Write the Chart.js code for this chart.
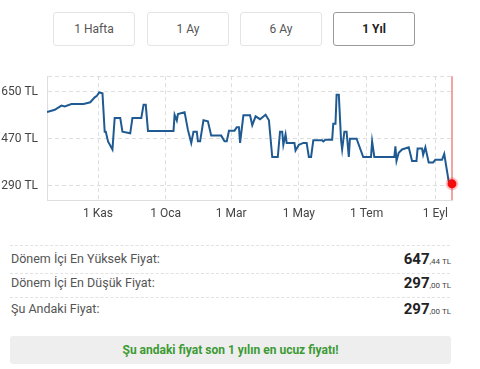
<!DOCTYPE html>
<html>
<head>
<meta charset="utf-8">
<script src="https://cdn.jsdelivr.net/npm/chart.js@4/dist/chart.umd.min.js"></script>
<style>
  body { margin: 0; background: #fff; font-family: Roboto, "Open Sans", sans-serif; }
  #page { position: relative; width: 480px; height: 369px; overflow: hidden; }
  .btn { position: absolute; top: 12px; width: 82px; height: 34px; border: 1px solid #e4e4e4; border-radius: 3px;
         box-sizing: border-box; font-size: 12px; color: #555; text-align: center; line-height: 32px; }
  .btn.active { border-color: #9a9a9a; color: #222; font-weight: bold; }
  #chartBox { position: absolute; left: 0; top: 60px; width: 480px; height: 170px; }
  .sep { position: absolute; left: 10px; width: 440px; border-top: 1px dashed #e2e2e2; }
  .row { position: absolute; left: 11px; width: 440px; height: 20px; font-size: 12.5px; color: #555; line-height: 20px; }
  .val { position: absolute; right: 0; top: 0; color: #222; }
  .val b { font-size: 15px; }
  .val small { font-size: 8px; color: #444; }
  #note { position: absolute; left: 10px; top: 336px; width: 441px; height: 28px; background: #eeeeee; border-radius: 3px;
          text-align: center; line-height: 28px; font-size: 12px; font-weight: bold; color: #3c9a34; }
</style>
</head>
<body>
<div id="page">
  <div class="btn" style="left:53px">1 Hafta</div>
  <div class="btn" style="left:147px">1 Ay</div>
  <div class="btn" style="left:240px">6 Ay</div>
  <div class="btn active" style="left:333px">1 Yıl</div>

  <div id="chartBox"><canvas id="priceChart"></canvas></div>

  <div class="sep" style="top:245px"></div>
  <div class="row" style="top:249px">Dönem İçi En Yüksek Fiyat:<span class="val"><b>647</b><small>,44 TL</small></span></div>
  <div class="sep" style="top:273px"></div>
  <div class="row" style="top:273px">Dönem İçi En Düşük Fiyat:<span class="val"><b>297</b><small>,00 TL</small></span></div>
  <div class="sep" style="top:297px"></div>
  <div class="row" style="top:299px">Şu Andaki Fiyat:<span class="val"><b>297</b><small>,00 TL</small></span></div>

  <div id="note">Şu andaki fiyat son 1 yılın en ucuz fiyatı!</div>
</div>
<script>
// gun: 16 Eylul'den itibaren gecen gun sayisi
var days = [0, 7, 13, 16, 22, 33, 39, 43, 45, 47, 50, 52, 53, 55, 59, 61, 66, 68, 75, 77, 85, 87, 89, 91,
    114, 115, 117, 118, 124, 127, 130, 132, 135, 136, 138, 141, 145, 148, 157, 160, 162, 164, 169, 171, 173,
    174, 177, 183, 185, 188, 192, 197, 200, 203, 208, 210, 212, 213, 215, 216, 223, 224, 227, 231, 234, 236,
    238, 240, 248, 249, 251, 257, 258, 260, 261, 263, 265, 266, 268, 270, 272, 273, 279, 285, 292, 293, 295,
    313, 314, 315, 317, 320, 326, 329, 333, 334, 338, 339, 341, 344, 348, 350, 356, 358, 359, 362, 365];
var prices = [572, 581, 597, 594, 603, 603, 610, 629, 635, 647.44, 644, 497, 497, 460, 429, 550, 550, 497, 491, 550, 550, 600, 600, 500,
    500, 562, 540, 565, 572, 504, 454, 497, 497, 460, 460, 541, 537, 482, 482, 460, 460, 501, 501, 514, 514,
    454, 560, 560, 522, 556, 545, 562, 541, 400, 400, 497, 497, 447, 487, 454, 454, 425, 447, 454, 454, 400,
    400, 464, 464, 460, 466, 466, 528, 528, 639, 639, 466, 429, 497, 497, 400, 470, 470, 400, 400, 460, 400,
    400, 441, 385, 416, 429, 437, 385, 385, 433, 433, 408, 437, 379, 379, 389, 389, 412, 385, 307, 297];

var tickDays = [46, 107, 166, 227, 288, 350];
var tickLabels = ["1 Kas", "1 Oca", "1 Mar", "1 May", "1 Tem", "1 Eyl"];
var priceTicks = [290, 470, 650];
var lastDay = 365;
var lastPrice = 297;
var yMin = 235, yMax = 710;

var points = [];
for (var i = 0; i < days.length; i++) {
    points.push({ x: days[i], y: prices[i] });
}

var gridColor = "#dedede";
var tickFont = { family: "Roboto", size: 12 };

var chart = new Chart(document.getElementById("priceChart"), {
    type: "line",
    data: {
        datasets: [
            {
                data: [{ x: lastDay, y: lastPrice }],
                order: 0,
                clip: false,
                showLine: false,
                pointRadius: 4.5,
                pointBackgroundColor: "#f30d0d",
                pointBorderColor: "rgba(255,0,0,0.22)",
                pointBorderWidth: 4
            },
            {
                data: points,
                order: 1,
                borderColor: "#1f5a92",
                borderWidth: 2,
                pointRadius: 0,
                tension: 0
            },
            {
                data: [{ x: lastDay, y: yMin }, { x: lastDay, y: yMax }],
                order: 2,
                clip: false,
                borderColor: "#ee8686",
                borderWidth: 1.5,
                pointRadius: 0
            }
        ]
    },
    options: {
        animation: false,
        responsive: true,
        maintainAspectRatio: false,
        layout: { padding: { top: 13, right: 28, left: 0, bottom: 0 } },
        plugins: { legend: { display: false }, tooltip: { enabled: false } },
        scales: {
            x: {
                type: "linear",
                min: 0,
                max: lastDay,
                afterBuildTicks: function (axis) {
                    axis.ticks = tickDays.map(function (d) { return { value: d }; });
                },
                afterFit: function (scale) { scale.height = 30; },
                grid: { color: gridColor, drawTicks: false },
                border: { color: gridColor, dash: [4, 3] },
                ticks: {
                    padding: 7,
                    color: "#444",
                    font: tickFont,
                    maxRotation: 0,
                    autoSkip: false,
                    callback: function (value) { return tickLabels[tickDays.indexOf(value)]; }
                }
            },
            y: {
                min: yMin,
                max: yMax,
                afterBuildTicks: function (axis) {
                    axis.ticks = priceTicks.concat([yMax]).map(function (v) { return { value: v }; });
                },
                afterFit: function (scale) { scale.width = 47; },
                grid: { color: gridColor, drawTicks: false },
                border: { color: gridColor, dash: [4, 3] },
                ticks: {
                    padding: 9,
                    color: "#444",
                    font: tickFont,
                    callback: function (value) { return value == yMax ? "" : value + " TL"; }
                }
            }
        }
    }
});
</script>
</body>
</html>
